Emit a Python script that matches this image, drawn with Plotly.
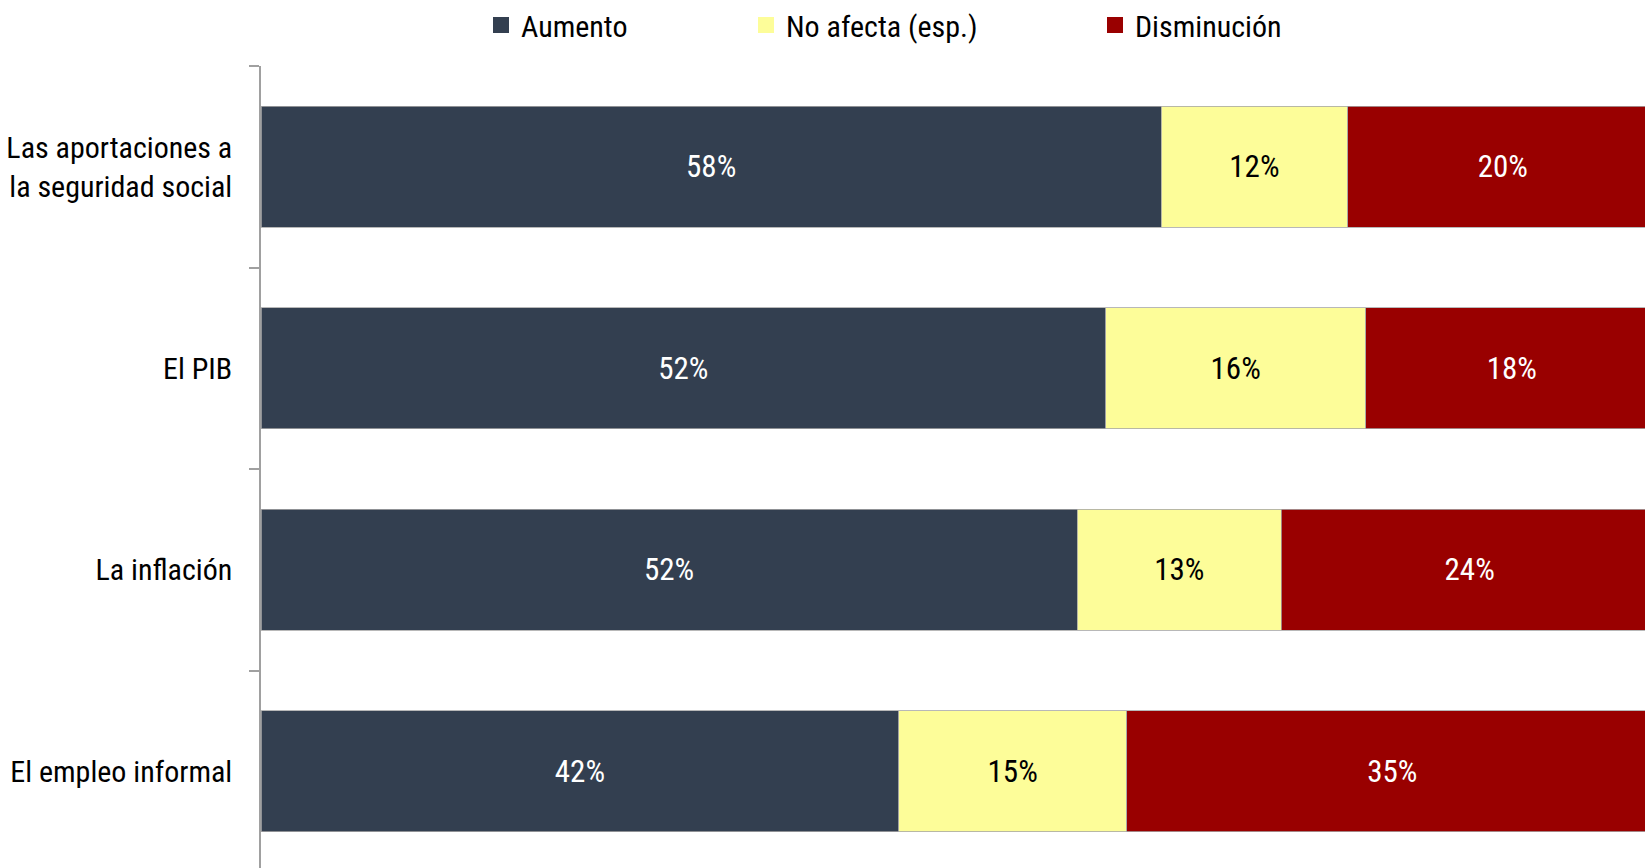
import plotly.graph_objects as go

categories = ["Las aportaciones a<br>la seguridad social", "El PIB", "La inflación", "El empleo informal"]
aumento = [58, 52, 52, 42]
no_afecta = [12, 16, 13, 15]
disminucion = [20, 18, 24, 35]
series_names = ["Aumento", "No afecta (esp.)", "Disminución"]
colors = ["#333F50", "#FDFD99", "#990000"]
text_colors = ["white", "black", "white"]

FONT = "Roboto Condensed, Liberation Sans Narrow, Arial Narrow, DejaVu Sans Condensed, sans-serif"

W, H = 1645, 868
ML, MT = 261, 66
PW, PH = W - ML, H - MT

fig = go.Figure()
legend_ids = ["legend", "legend2", "legend3"]
legend_marker_x = [501, 766, 1115]
for name, vals, col, tc in zip(series_names, [aumento, no_afecta, disminucion], colors, text_colors):
    fig.add_trace(go.Bar(
        y=categories, x=vals, name=name, orientation="h",
        marker=dict(color=col, line=dict(color="#A6A6A6", width=0.8)),
        text=[f"{v}%" for v in vals], texttemplate="%{text}",
        textposition="inside", insidetextanchor="middle",
        textfont=dict(family=FONT, size=31, color=tc),
        constraintext="none",
        showlegend=False,
    ))

# legend entries
for name, col, lg in zip(series_names, colors, legend_ids):
    fig.add_trace(go.Scatter(
        x=[None], y=[None], mode="markers", name=name,
        marker=dict(symbol="square", size=16, color=col),
        legend=lg, showlegend=True, hoverinfo="skip",
    ))

legend_common = dict(orientation="h", yanchor="middle", xanchor="left",
                     font=dict(family=FONT, size=30, color="black"),
                     bgcolor="rgba(0,0,0,0)", borderwidth=0)
layout_legends = {}
for lg, mx in zip(legend_ids, legend_marker_x):
    layout_legends[lg] = dict(legend_common, x=(mx - 20 - ML) / PW, y=1 + (MT - 25) / PH)

fig.update_layout(
    width=W, height=H,
    margin=dict(l=ML, r=0, t=MT, b=0, pad=0, autoexpand=False),
    barmode="stack", barnorm="percent", bargap=0.40,
    plot_bgcolor="white", paper_bgcolor="white",
    font=dict(family=FONT, size=30, color="black"),
    xaxis=dict(range=[0, 100 * PW / 1397], visible=False, fixedrange=True),
    yaxis=dict(
        categoryorder="array", categoryarray=categories,
        range=[-0.5 + PH / 201.5, -0.5],
        showline=True, linecolor="#A0A0A0", linewidth=1.5,
        ticks="outside", tickson="boundaries", ticklen=10, tickcolor="#A0A0A0", tickwidth=1.5,
        ticklabelstandoff=21,
        tickfont=dict(family=FONT, size=30, color="black"),
        showgrid=False, zeroline=False, fixedrange=True,
    ),
    **layout_legends,
)

fig.write_html(
    "out.html",
    config={"displayModeBar": False},
    post_script="document.body.style.margin='0';document.documentElement.style.overflow='hidden';document.body.style.overflow='hidden';",
)
